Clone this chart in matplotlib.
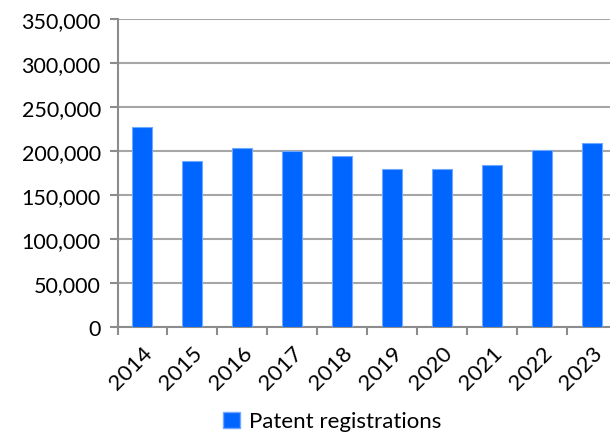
import matplotlib
matplotlib.use("Agg")
import matplotlib.pyplot as plt
from matplotlib.ticker import FuncFormatter
from matplotlib.patches import Patch

years = ["2014", "2015", "2016", "2017", "2018", "2019", "2020", "2021", "2022", "2023"]
registrations = [227000, 189000, 203000, 199500, 194000, 179500, 179000, 184000, 201500, 209000]
series_name = "Patent registrations"

plt.rcParams['font.family'] = ['Lato', 'DejaVu Sans']

fig = plt.figure(figsize=(6.1, 4.35), dpi=100)
ax = fig.add_axes([117.5/610, 1-328/435, (617-117.5)/610, (328-20)/435])

bar_color = "#0066FF"
x = list(range(len(years)))
ax.bar(x, registrations, width=0.4, color=bar_color, edgecolor="#6fa8ff", linewidth=0.8, zorder=3)

ax.set_xlim(-0.5, len(years) - 0.5)
ax.set_ylim(0, 350000)
ax.set_yticks(range(0, 350001, 50000))
ax.yaxis.set_major_formatter(FuncFormatter(lambda v, p: f"{int(v):,}"))
ax.set_xticks([i - 0.5 for i in range(len(years) + 1)], minor=False)
ax.set_xticklabels([])
ax.set_xticks(x, minor=True)
ax.set_xticklabels(years, minor=True, rotation=45, ha="right", rotation_mode="anchor")
ax.tick_params(axis="x", which="minor", length=0, pad=11, labelsize=16)
ax.tick_params(axis="x", which="major", length=6, color="#8c8c8c", width=1.5)
ax.tick_params(axis="y", length=6, color="#8c8c8c", width=1.5, labelsize=15.5, pad=6)

ax.grid(axis="y", color="#a6a6a6", linewidth=1.5, zorder=0)
for s in ["top", "right"]:
    ax.spines[s].set_visible(False)
for s in ["left", "bottom"]:
    ax.spines[s].set_color("#8c8c8c")
    ax.spines[s].set_linewidth(1.5)

handle = Patch(facecolor=bar_color, edgecolor="#6fa8ff")
fig.legend([handle], [series_name], loc="lower center", bbox_to_anchor=(332/610, -0.04),
           frameon=False, fontsize=16, handlelength=0.75, handleheight=0.75, handletextpad=0.4)

fig.savefig("out.png", dpi=100)
